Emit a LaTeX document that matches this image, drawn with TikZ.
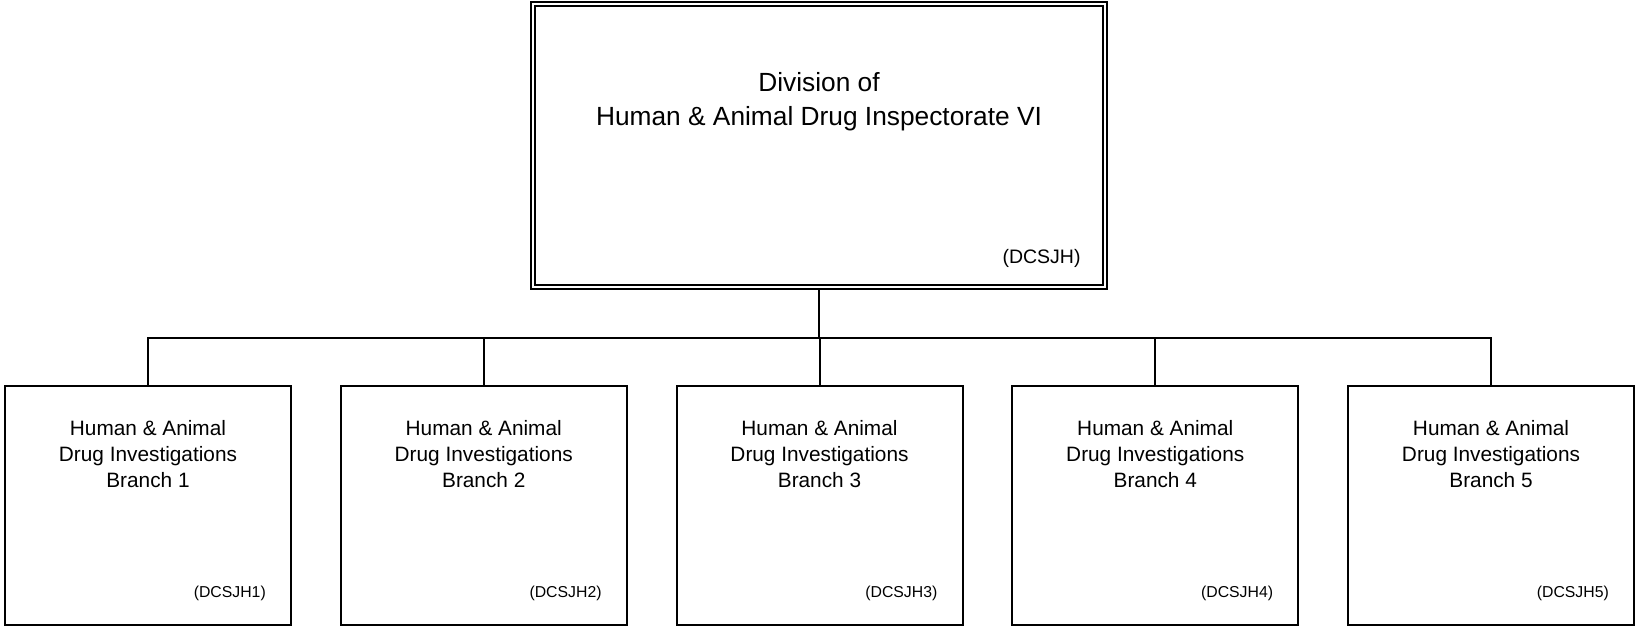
\documentclass[tikz,border=0pt]{standalone}
\usepackage{fontspec}
\setmainfont{Liberation Sans}
\usetikzlibrary{calc}
\begin{document}
\begin{tikzpicture}[x=1pt,y=-1pt,
  branchbox/.style={draw,line width=2pt,minimum width=286pt,minimum height=238.5pt,inner sep=0pt},
  topbox/.style={draw,line width=2pt,double,double distance=2pt,minimum width=571.8pt,minimum height=283pt,inner sep=0pt},
  conn/.style={line width=2pt},
  titletext/.style={font=\fontsize{26.3}{33}\selectfont,inner sep=0pt,anchor=base},
  branchtext/.style={font=\fontsize{20.8}{26}\selectfont,inner sep=0pt,anchor=base},
  topcode/.style={font=\fontsize{19.5}{24}\selectfont,inner sep=0pt,anchor=base east},
  branchcode/.style={font=\fontsize{15.8}{19}\selectfont,inner sep=0pt,anchor=base east}]
\useasboundingbox (0,0) rectangle (1635,626);
\node[topbox] (top) at (818.8,145.5) {};
\node[titletext] (title) at (819,92) {\begin{tabular}[t]{@{}c@{}}Division of\\Human \& Animal Drug Inspectorate VI\end{tabular}};
\node[topcode] (topc) at ($(top.south east)+(-25,-25)$) {(DCSJH)};
\foreach \i in {1,...,5}{
  \node[branchbox] (b\i) at ({148+335.75*(\i-1)},505.25) {};
  \node[branchtext] (t\i) at ({148+335.75*(\i-1)},435.5) {\begin{tabular}[t]{@{}c@{}}Human \& Animal\\Drug Investigations\\Branch \i\end{tabular}};
  \node[branchcode] (c\i) at ($(b\i.south east)+(-26,-28)$) {(DCSJH\i)};
}
\coordinate (bus) at (top.south |- 0,338);
\draw[conn] (top.south) -- (bus);
\draw[conn] (b1.north) |- (bus) -| (b5.north);
\foreach \i in {2,3,4}{
  \draw[conn] (b\i.north) -- (b\i.north |- bus);
}
\end{tikzpicture}
\end{document}
